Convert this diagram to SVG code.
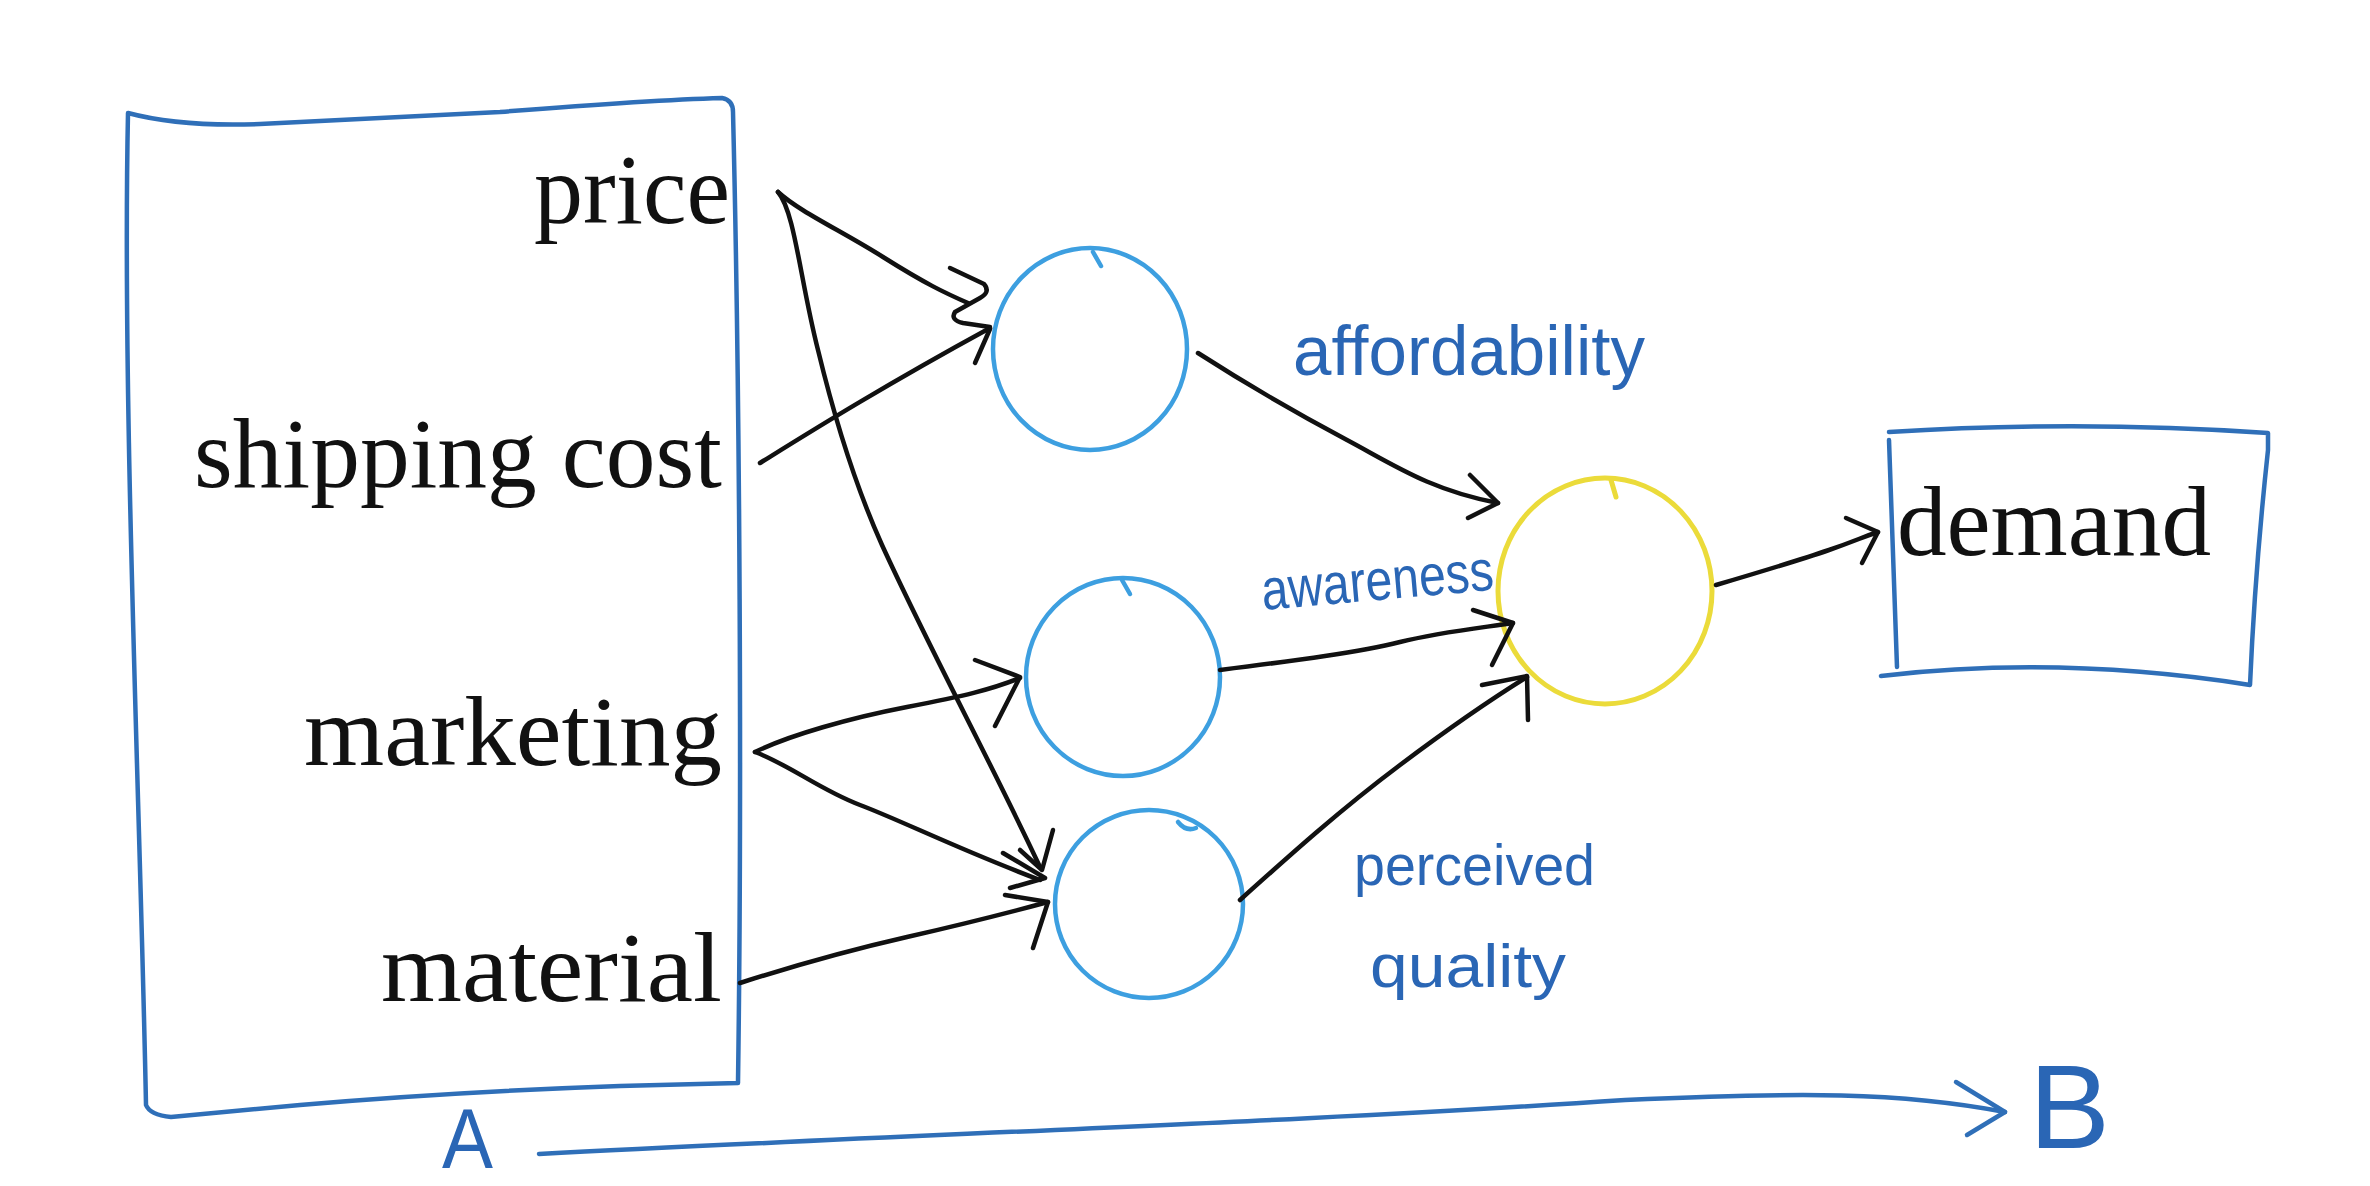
<svg xmlns="http://www.w3.org/2000/svg" width="2370" height="1186" viewBox="0 0 2370 1186">
<style>
.box{fill:none;stroke:#2f6fb8;stroke-width:4.5;stroke-linecap:round;stroke-linejoin:round}
.node{fill:none;stroke:#3d9fe0;stroke-width:4.5;stroke-linecap:round}
.out{fill:none;stroke:#ebdb3a;stroke-width:5;stroke-linecap:round}
.con{fill:none;stroke:#111;stroke-width:4.5;stroke-linecap:round;stroke-linejoin:round}
.ab{fill:none;stroke:#2f6fb8;stroke-width:4.5;stroke-linecap:round;stroke-linejoin:round}
.serif{font-family:"Liberation Serif","DejaVu Serif",serif;font-size:100px;fill:#111}
.hand{font-family:"Liberation Sans","DejaVu Sans",sans-serif;fill:#2a66b5}
</style>
<rect width="2370" height="1186" fill="#ffffff"/>

<g id="inputs">
  <path class="box" d="M128,113 Q180,127 260,124 L500,112 Q650,100 722,98 Q733,100 733,112 C740,400 742,800 738,1083 L620,1086 Q450,1092 300,1105 L171,1117 Q150,1115 146,1105 C140,800 122,400 128,113 Z"/>
  <text class="serif" x="730" y="223" text-anchor="end" textLength="196" lengthAdjust="spacingAndGlyphs">price</text>
  <text class="serif" x="722" y="487" text-anchor="end" textLength="528" lengthAdjust="spacingAndGlyphs">shipping cost</text>
  <text class="serif" x="722" y="765" text-anchor="end" textLength="418" lengthAdjust="spacingAndGlyphs">marketing</text>
  <text class="serif" x="722" y="1001" text-anchor="end" textLength="341" lengthAdjust="spacingAndGlyphs">material</text>
</g>

<g id="affordability">
  <ellipse class="node" cx="1090" cy="349" rx="97" ry="101"/>
  <path class="node" d="M1093,252 L1101,266"/>
  <text class="hand" x="1293" y="375" font-size="70" textLength="352" lengthAdjust="spacingAndGlyphs">affordability</text>
</g>

<g id="awareness">
  <ellipse class="node" cx="1123" cy="677" rx="97" ry="99"/>
  <path class="node" d="M1122,580 L1130,594"/>
  <text class="hand" x="1263" y="610" font-size="58" textLength="233" lengthAdjust="spacingAndGlyphs" transform="rotate(-5 1263 610)">awareness</text>
</g>

<g id="perceived-quality">
  <ellipse class="node" cx="1149" cy="904" rx="94" ry="94"/>
  <path class="node" d="M1178,822 Q1186,832 1196,828"/>
  <text class="hand" x="1354" y="885" font-size="58" textLength="241" lengthAdjust="spacingAndGlyphs">perceived</text>
  <text class="hand" x="1370" y="987" font-size="62" textLength="196" lengthAdjust="spacingAndGlyphs">quality</text>
</g>

<g id="output-node">
  <ellipse class="out" cx="1605" cy="591" rx="107" ry="113"/>
  <path class="out" d="M1611,480 L1616,497"/>
</g>

<g id="demand">
  <path class="box" d="M1889,432 Q2080,420 2268,433 L2268,450 Q2255,570 2250,685 Q2060,655 1881,676"/>
  <path class="box" d="M1889,440 L1897,667"/>
  <text class="serif" x="1897" y="555" textLength="314" lengthAdjust="spacingAndGlyphs">demand</text>
</g>

<g id="connectors">
  <path class="con" d="M778,192 C800,212 840,230 883,257 S945,293 968,303"/>
  <path class="con" d="M950,268 L984,284 Q991,292 980,298 L955,312 Q950,320 963,323 L990,327"/>
  <path class="con" d="M760,463 C810,432 880,388 990,328"/>
  <path class="con" d="M975,363 L990,329"/>
  <path class="con" d="M778,192 C795,212 800,280 818,350 C835,420 855,485 882,545 C930,650 990,760 1040,867"/>
  <path class="con" d="M1053,830 L1042,870 L1020,850"/>
  <path class="con" d="M755,752 C790,735 850,718 907,707 S990,690 1020,678"/>
  <path class="con" d="M975,660 L1020,677 L995,726"/>
  <path class="con" d="M755,752 C790,765 820,790 860,805 S960,850 1040,880"/>
  <path class="con" d="M1003,853 L1045,878 L1010,888"/>
  <path class="con" d="M740,983 C790,967 850,950 907,937 S1000,915 1048,902"/>
  <path class="con" d="M1005,895 L1048,902 L1033,948"/>
  <path class="con" d="M1198,353 C1240,380 1300,415 1347,440 S1430,490 1498,503"/>
  <path class="con" d="M1470,475 L1498,503 L1468,518"/>
  <path class="con" d="M1220,670 C1300,660 1360,652 1400,642 S1480,628 1513,623"/>
  <path class="con" d="M1473,610 L1513,623 L1492,665"/>
  <path class="con" d="M1240,900 C1290,855 1340,810 1400,765 S1490,700 1527,677"/>
  <path class="con" d="M1482,685 L1527,676 L1528,720"/>
  <path class="con" d="M1716,585 C1760,572 1800,560 1829,550 S1860,538 1878,532"/>
  <path class="con" d="M1846,518 L1878,532 L1862,563"/>
</g>

<g id="a-to-b">
  <path class="ab" d="M539,1154 C900,1135 1300,1122 1625,1100 C1800,1092 1900,1092 2005,1112"/>
  <path class="ab" d="M1956,1082 L2005,1112 L1967,1135"/>
  <text class="hand" x="442" y="1168" font-size="86" textLength="51" lengthAdjust="spacingAndGlyphs">A</text>
  <text class="hand" x="2029" y="1148" font-size="118" textLength="81" lengthAdjust="spacingAndGlyphs">B</text>
</g>
</svg>
